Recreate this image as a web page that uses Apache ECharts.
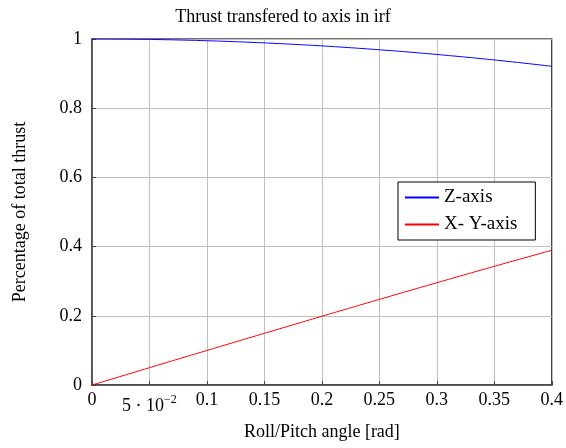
<!DOCTYPE html>
<html><head><meta charset="utf-8">
<script src="https://cdn.jsdelivr.net/npm/echarts@6/dist/echarts.min.js"></script>
<style>html,body{margin:0;padding:0;background:#fff}#c{width:566px;height:448px}</style>
</head><body><div id="c"></div>
<script>
const angles = [0,0.02,0.04,0.06,0.08,0.10,0.12,0.14,0.16,0.18,0.20,0.22,0.24,0.26,0.28,0.30,0.32,0.34,0.36,0.38,0.40];
const zAxis = [1,0.9998,0.9992,0.9982,0.9968,0.9950,0.9928,0.9902,0.9872,0.9838,0.9801,0.9759,0.9713,0.9664,0.9611,0.9553,0.9492,0.9428,0.9359,0.9287,0.9211];
const xyAxis = [0,0.0200,0.0400,0.0600,0.0799,0.0998,0.1197,0.1395,0.1593,0.1790,0.1987,0.2182,0.2377,0.2571,0.2764,0.2955,0.3146,0.3335,0.3523,0.3709,0.3894];
const seriesNames = ['Z-axis','X- Y-axis'];
const xTickLabels = {0:'0',0.05:'{a|5 · 10}{s|−2}',0.1:'0.1',0.15:'0.15',0.2:'0.2',0.25:'0.25',0.3:'0.3',0.35:'0.35',0.4:'0.4'};
const yTickLabels = {0:'0',0.2:'0.2',0.4:'0.4',0.6:'0.6',0.8:'0.8',1:'1'};
const FS = '"Liberation Serif", serif';
const chart = echarts.init(document.getElementById('c'));
function key(v){return Math.round(v*100)/100;}
chart.setOption({
  animation:false,
  title:{text:'Thrust transfered to axis in irf',left:'center',top:3,textStyle:{fontFamily:FS,fontSize:18,fontWeight:'normal',color:'#000'}},
  grid:{left:92,right:13,top:39,bottom:63,show:true,borderColor:'#444',borderWidth:1.5},
  legend:{orient:'vertical',left:398,top:182,data:seriesNames,borderColor:'#000',borderWidth:1,padding:[6,18,6,7],itemGap:8,itemWidth:34,itemHeight:2,icon:'rect',textStyle:{fontFamily:FS,fontSize:19,color:'#000'},backgroundColor:'#fff'},
  xAxis:{type:'value',min:0,max:0.4,interval:0.05,name:'Roll/Pitch angle [rad]',nameLocation:'middle',nameGap:38,nameTextStyle:{fontFamily:FS,fontSize:18,color:'#000'},
    axisLine:{show:true,onZero:false,lineStyle:{color:'#444',width:1.5}},axisTick:{show:true,inside:true,length:4,lineStyle:{color:'#444'}},
    axisLabel:{fontFamily:FS,fontSize:18,color:'#000',margin:6,formatter:v=>xTickLabels[key(v)]||'',rich:{a:{fontFamily:FS,fontSize:18,color:'#000',padding:[6,0,0,0]},s:{fontFamily:FS,fontSize:12,color:'#000',padding:[0,0,6,0]}}},
    splitLine:{show:true,lineStyle:{color:'#c0c0c0',width:1}}},
  yAxis:{type:'value',min:0,max:1,interval:0.2,name:'Percentage of total thrust',nameLocation:'middle',nameGap:63,nameTextStyle:{fontFamily:FS,fontSize:18,color:'#000'},
    axisLine:{show:true,onZero:false,lineStyle:{color:'#444',width:1.5}},axisTick:{show:true,inside:true,length:4,lineStyle:{color:'#444'}},
    axisLabel:{fontFamily:FS,fontSize:18,color:'#000',margin:10,formatter:v=>yTickLabels[key(v)]||''},
    splitLine:{show:true,lineStyle:{color:'#c0c0c0',width:1}}},
  series:[
    {name:seriesNames[0],type:'line',data:angles.map((a,i)=>[a,zAxis[i]]),showSymbol:false,smooth:true,lineStyle:{color:'#0000ff',width:1},itemStyle:{color:'#0000ff'}},
    {name:seriesNames[1],type:'line',data:angles.map((a,i)=>[a,xyAxis[i]]),showSymbol:false,smooth:true,lineStyle:{color:'#ff0000',width:1},itemStyle:{color:'#ff0000'}}
  ]
});
</script></body></html>
